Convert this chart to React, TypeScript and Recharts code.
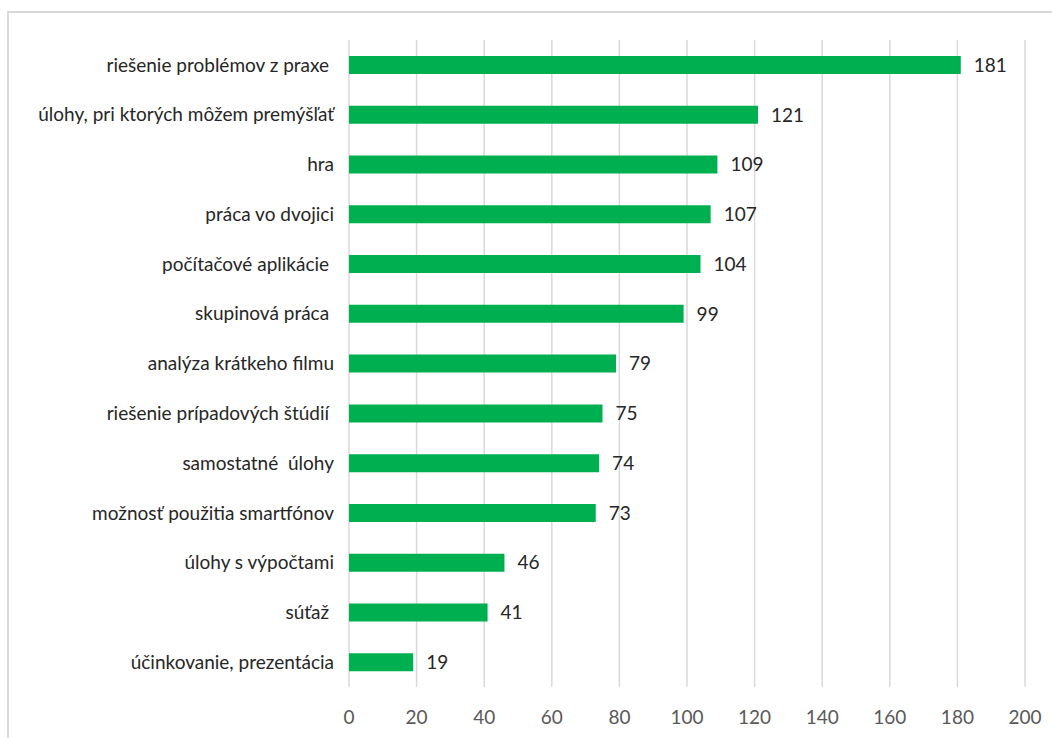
import React from "react";
import { BarChart, Bar, XAxis, YAxis, CartesianGrid, LabelList } from "recharts";

const categories = [
  "riešenie problémov z praxe\u00a0",
  "úlohy, pri ktorých môžem premýšľať",
  "hra",
  "práca vo dvojici",
  "počítačové aplikácie\u00a0",
  "skupinová práca\u00a0",
  "analýza krátkeho filmu",
  "riešenie prípadových štúdií\u00a0",
  "samostatné\u00a0 úlohy",
  "možnosť použitia smartfónov",
  "úlohy s výpočtami",
  "súťaž\u00a0",
  "účinkovanie, prezentácia",
];
const values = [181, 121, 109, 107, 104, 99, 79, 75, 74, 73, 46, 41, 19];
const xTicks = [0, 20, 40, 60, 80, 100, 120, 140, 160, 180, 200];

const data = categories.map((c, i) => ({ name: c, value: values[i] }));

const FONT = "Lato, 'Open Sans', sans-serif";

export default function App() {
  return (
    <div style={{ position: "absolute", left: 0, top: 0, width: 1052, height: 738, overflow: "hidden", background: "#fff" }}>
      <div
        style={{
          position: "absolute",
          left: 7,
          top: 11,
          width: 1200,
          height: 900,
          border: "2px solid #d9d9d9",
        }}
      />
      <div style={{ position: "absolute", left: 0, top: 0 }}>
        <BarChart
          width={1052}
          height={738}
          data={data}
          layout="vertical"
          margin={{ top: 40, right: 27, bottom: 0, left: 0 }}
          barCategoryGap={0}
        >
          <CartesianGrid horizontal={false} vertical={true} stroke="#d9d9d9" strokeWidth={1.5} />
          <XAxis
            type="number"
            domain={[0, 200]}
            ticks={xTicks}
            interval={0}
            axisLine={false}
            tickLine={false}
            tickSize={0}
            tickMargin={24}
            height={51}
            tick={{ fill: "#595959", fontSize: 19, fontFamily: FONT }}
          />
          <YAxis
            type="category"
            dataKey="name"
            width={349}
            axisLine={false}
            tickLine={false}
            tickSize={0}
            tickMargin={15}
            interval={0}
            tick={{ fill: "#262626", fontSize: 19, fontFamily: FONT, style: { whiteSpace: "pre" } }}
          />
          <Bar dataKey="value" fill="#00B050" barSize={18} isAnimationActive={false}>
            <LabelList
              dataKey="value"
              position="right"
              offset={13}
              fill="#262626"
              fontSize={19}
              fontFamily={FONT}
            />
          </Bar>
        </BarChart>
      </div>
    </div>
  );
}
